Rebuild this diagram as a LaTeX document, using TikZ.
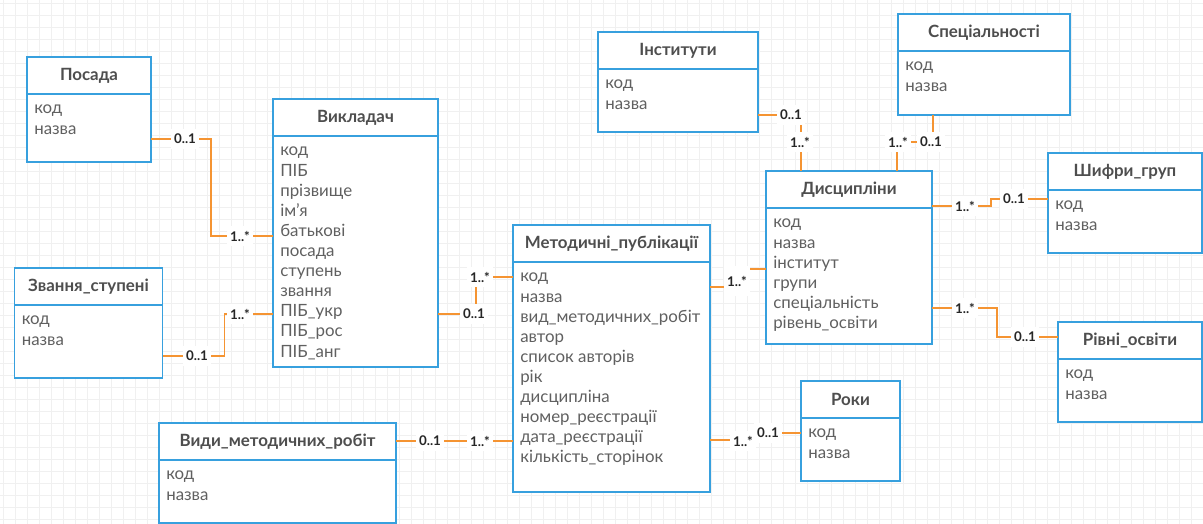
\documentclass[tikz,border=0pt]{standalone}
\usepackage{fontspec}
\setmainfont{Lato}
\usepackage{tikz}
\usetikzlibrary{positioning,calc}
\definecolor{erblue}{RGB}{55,160,222}
\definecolor{erorange}{RGB}{245,148,50}
\definecolor{ertitle}{RGB}{78,78,78}
\definecolor{erattr}{RGB}{96,96,96}
\definecolor{ergrid}{RGB}{240,240,240}

\begin{document}
\begin{tikzpicture}[x=0.025cm,y=-0.025cm,
  ent/.style={draw=erblue,line width=1.4pt,fill=white,outer sep=0pt,inner sep=0pt},
  boxw/.style={minimum width=#1*0.025cm},
  boxh/.style={minimum height=#1*0.025cm},
  hdr/.style={ent,anchor=north,minimum height=0.925cm,font=\fontsize{12}{14}\selectfont\bfseries,text=ertitle},
  attrs/.style={anchor=north west,inner sep=0pt,align=left,font=\fontsize{12}{14.3}\selectfont,text=erattr},
  rel/.style={draw=erorange,line width=1.4pt},
  lbl/.style={fill=white,inner xsep=2.5pt,inner ysep=3.5pt,font=\fontsize{9.5}{11}\selectfont\bfseries,text=black!85},
  gridln/.style={draw=ergrid,line width=0.5pt}]
  \useasboundingbox (0,0) rectangle (1203,524);
  % background grid
  \foreach \gx in {3,15,...,1203} \draw[gridln] (\gx,0) -- (\gx,524);
  \foreach \gy in {3,15,...,524} \draw[gridln] (0,\gy) -- (1203,\gy);

  % tables: header + body + attribute list
  \node[hdr,boxw=124] (posA) at (89,57) {Посада};
  \node[ent,boxw=124,boxh=68,below=0pt of posA] (posB) {};
  \node[attrs] (posT) at ($(posB.north west)+(7,11)$) {код\\назва};

  \node[hdr,boxw=165] (vykA) at (355.5,99) {Викладач};
  \node[ent,boxw=165,boxh=231,below=0pt of vykA] (vykB) {};
  \node[attrs] (vykT) at ($(vykB.north west)+(7,11)$) {код\\ПІБ\\прізвище\\ім’я\\батькові\\посада\\ступень\\звання\\ПІБ\_укр\\ПІБ\_рос\\ПІБ\_анг};

  \node[hdr,boxw=148] (zvaA) at (88.5,268) {Звання\_ступені};
  \node[ent,boxw=148,boxh=73,below=0pt of zvaA] (zvaB) {};
  \node[attrs] (zvaT) at ($(zvaB.north west)+(7,11)$) {код\\назва};

  \node[hdr,boxw=237] (vydA) at (277.5,423) {Види\_методичних\_робіт};
  \node[ent,boxw=237,boxh=63,below=0pt of vydA] (vydB) {};
  \node[attrs] (vydT) at ($(vydB.north west)+(7,11)$) {код\\назва};

  \node[hdr,boxw=197] (metA) at (611.5,225) {Методичні\_публікації};
  \node[ent,boxw=197,boxh=230,below=0pt of metA] (metB) {};
  \node[attrs] (metT) at ($(metB.north west)+(7,11)$) {код\\назва\\вид\_методичних\_робіт\\автор\\список авторів\\рік\\дисципліна\\номер\_реєстрації\\дата\_реєстрації\\кількість\_сторінок};

  \node[hdr,boxw=160] (insA) at (678,32) {Інститути};
  \node[ent,boxw=160,boxh=63,below=0pt of insA] (insB) {};
  \node[attrs] (insT) at ($(insB.north west)+(7,11)$) {код\\назва};

  \node[hdr,boxw=172] (spcA) at (984,14) {Спеціальності};
  \node[ent,boxw=172,boxh=64,below=0pt of spcA] (spcB) {};
  \node[attrs] (spcT) at ($(spcB.north west)+(7,11)$) {код\\назва};

  \node[hdr,boxw=166] (disA) at (849,171) {Дисципліни};
  \node[ent,boxw=166,boxh=136,below=0pt of disA] (disB) {};
  \node[attrs] (disT) at ($(disB.north west)+(7,11)$) {код\\назва\\інститут\\групи\\спеціальність\\рівень\_освіти};

  \node[hdr,boxw=154] (shfA) at (1125,153) {Шифри\_груп};
  \node[ent,boxw=154,boxh=63,below=0pt of shfA] (shfB) {};
  \node[attrs] (shfT) at ($(shfB.north west)+(7,11)$) {код\\назва};

  \node[hdr,boxw=144] (rivA) at (1130,322) {Рівні\_освіти};
  \node[ent,boxw=144,boxh=63,below=0pt of rivA] (rivB) {};
  \node[attrs] (rivT) at ($(rivB.north west)+(7,11)$) {код\\назва};

  \node[hdr,boxw=99] (rokA) at (850.5,381) {Роки};
  \node[ent,boxw=99,boxh=63,below=0pt of rokA] (rokB) {};
  \node[attrs] (rokT) at ($(rokB.north west)+(7,11)$) {код\\назва};

  % relations
  \draw[rel] ($(posB.east)+(0,11)$) -- ++(60,0) |- ($(vykB.west)+(0,-15.5)$);
  \draw[rel] ($(zvaB.east)+(0,14.5)$) -- ++(62,0) |- ($(vykB.west)+(0,62.5)$);
  \draw[rel] ($(vykB.east)+(0,62.5)$) -- ++(38,0) |- ($(metB.west)+(0,-100)$);
  \draw[rel] ($(vydA.east)+(0,-0.5)$) -- ($(vydA.east -| metB.west)+(0,-0.5)$);
  \draw[rel] ($(metB.east)+(0,63)$) -- ++(45,0) |- ($(rokB.west)+(0,-16.5)$);
  \draw[rel] ($(metB.east)+(0,-90)$) -- ++(28,0) |- ($(disB.west)+(0,-7)$);
  \draw[rel] ($(insB.east)+(0,14.5)$) -| ($(disA.north)+(-48,0)$);
  \draw[rel] ($(spcB.south)+(-51,0)$) -- ++(0,27) -| ($(disA.north)+(48,0)$);
  \draw[rel] ($(disA.east)+(0,16.5)$) -- ++(59,0) |- ($(shfB.west)+(0,-22.5)$);
  \draw[rel] ($(disB.east)+(0,32)$) -- ++(65,0) |- ($(rivA.west)+(0,-3.5)$);

  % multiplicities
  \node[lbl] (m1a) at (185,139) {0..1};
  \node[lbl] (m1b) at (240,236) {1..*};
  \node[lbl] (m2a) at (197,356) {0..1};
  \node[lbl] (m2b) at (240,314) {1..*};
  \node[lbl] (m3a) at (474,314) {0..1};
  \node[lbl] (m3b) at (480,277) {1..*};
  \node[lbl] (m4a) at (430,441) {0..1};
  \node[lbl] (m4b) at (480,441) {1..*};
  \node[lbl] (m5a) at (743,441) {1..*};
  \node[lbl] (m5b) at (768,433) {0..1};
  \node[lbl,inner ysep=7pt] (m6a) at (737,281) {1..*};
  \node[lbl] (m7a) at (791,115) {0..1};
  \node[lbl] (m7b) at (800,142) {1..*};
  \node[lbl] (m8a) at (898,142) {1..*};
  \node[lbl] (m8b) at (931,142) {0..1};
  \node[lbl] (m9a) at (965,206) {1..*};
  \node[lbl] (m9b) at (1014,199) {0..1};
  \node[lbl] (m10a) at (965,308) {1..*};
  \node[lbl] (m10b) at (1025,337) {0..1};
\end{tikzpicture}
\end{document}
